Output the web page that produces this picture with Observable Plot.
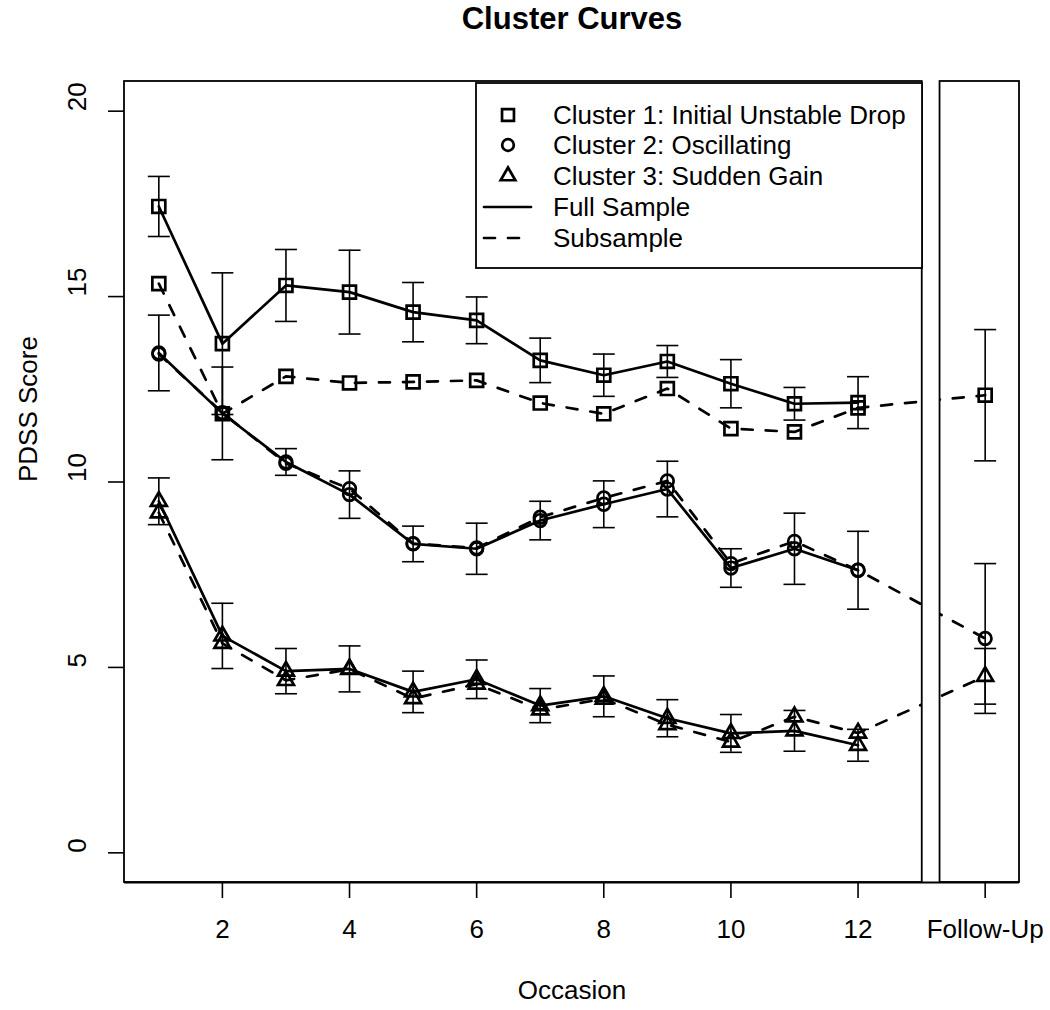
<!DOCTYPE html>
<html>
<head>
<meta charset="utf-8">
<script src="https://cdn.jsdelivr.net/npm/d3@7"></script>
<script src="https://cdn.jsdelivr.net/npm/@observablehq/plot@0.6"></script>
<style>
  html, body { margin: 0; padding: 0; background: #fff; }
  #chart { position: relative; width: 1050px; height: 1010px; }
</style>
</head>
<body>
<div id="chart"></div>
<script>
// ---------- data ----------
const occasions = [1, 2, 3, 4, 5, 6, 7, 8, 9, 10, 11, 12];
const followUpX = 14;
const xTicks = [2, 4, 6, 8, 10, 12, 14];
const xTickLabels = ["2", "4", "6", "8", "10", "12", "Follow-Up"];
const yTicks = [0, 5, 10, 15, 20];

// Cluster 1: Initial Unstable Drop
const c1Full    = [17.43, 13.73, 15.30, 15.12, 14.58, 14.36, 13.28, 12.88, 13.25, 12.65, 12.11, 12.14];
const c1FullErr = [0.81, 1.91, 0.97, 1.13, 0.80, 0.63, 0.60, 0.57, 0.43, 0.65, 0.44, 0.70];
const c1Sub     = [15.35, 11.84, 12.85, 12.67, 12.70, 12.74, 12.13, 11.84, 12.52, 11.44, 11.35, 12.00];
// Cluster 2: Oscillating
const c2Full    = [13.48, 11.85, 10.54, 9.66, 8.33, 8.20, 8.96, 9.40, 9.81, 7.68, 8.20, 7.62];
const c2FullErr = [1.02, 1.25, 0.36, 0.64, 0.48, 0.69, 0.52, 0.63, 0.75, 0.52, 0.96, 1.05];
const c2Sub     = [13.45, 11.87, 10.50, 9.82, 8.34, 8.22, 9.05, 9.57, 10.03, 7.80, 8.40, 7.62];
// Cluster 3: Sudden Gain
const c3Full    = [9.48, 5.85, 4.90, 4.96, 4.34, 4.68, 3.97, 4.22, 3.63, 3.22, 3.29, 2.90];
const c3FullErr = [0.63, 0.88, 0.61, 0.62, 0.56, 0.52, 0.46, 0.55, 0.50, 0.51, 0.55, 0.43];
const c3Sub     = [9.17, 5.65, 4.65, 4.95, 4.16, 4.55, 3.86, 4.15, 3.46, 2.99, 3.67, 3.23];
// Follow-up (subsample only), clusters 1..3
const followUpMean = [12.34, 5.78, 4.76];
const followUpErr  = [1.77, 2.02, 0.75];

const clusterNames = ["Cluster 1: Initial Unstable Drop", "Cluster 2: Oscillating", "Cluster 3: Sudden Gain"];
const lineLabels = ["Full Sample", "Subsample"];

// ---------- tables built from the arrays ----------
const fullSeries = [c1Full, c2Full, c3Full];
const fullErrSeries = [c1FullErr, c2FullErr, c3FullErr];
const subSeries = [c1Sub, c2Sub, c3Sub];

const fullRows = [];
const subRows = [];
fullSeries.forEach((s, k) => occasions.forEach((o, i) =>
  fullRows.push({cluster: k, x: o, y: s[i], err: fullErrSeries[k][i]})));
subSeries.forEach((s, k) => {
  occasions.forEach((o, i) => subRows.push({cluster: k, x: o, y: s[i]}));
  subRows.push({cluster: k, x: followUpX, y: followUpMean[k], err: followUpErr[k]});
});
const errRows = fullRows.concat(subRows.filter(d => d.x === followUpX));

// ---------- panel layout ----------
const xDomain = [0.46, 14.54];
const yDomain = [-0.8, 20.8];
const panels = [
  {x1: 0.46, x2: 13.01, y1: -0.8, y2: 20.8},
  {x1: 13.29, x2: 14.54, y1: -0.8, y2: 20.8}
];
const gap = [{x1: 13.01, x2: 13.29, y1: -0.8, y2: 20.8}];

const symbols = ["square", "circle", "triangle"];
const symbolR = [7.3, 6.3, 5.9];
const markerSW = 2.7;
const lineSW = 2.7;
const dash = "11,13";

const capSymbol = {
  draw(context, size) {
    const w = Math.sqrt(size / Math.PI);
    context.moveTo(-w, 0);
    context.lineTo(w, 0);
  }
};

const marks = [];
// lines
marks.push(Plot.line(fullRows, {x: "x", y: "y", z: "cluster", stroke: "black", strokeWidth: lineSW}));
marks.push(Plot.line(subRows, {x: "x", y: "y", z: "cluster", stroke: "black", strokeWidth: lineSW, strokeDasharray: dash}));
// gap between panels hides the lines
marks.push(Plot.rect(gap, {x1: "x1", x2: "x2", y1: "y1", y2: "y2", fill: "white"}));
// error bars
marks.push(Plot.ruleX(errRows, {x: "x", y1: d => d.y - d.err, y2: d => d.y + d.err, stroke: "black", strokeWidth: 1.6}));
marks.push(Plot.dot(errRows, {x: "x", y: d => d.y + d.err, symbol: capSymbol, r: 11, stroke: "black", strokeWidth: 1.6}));
marks.push(Plot.dot(errRows, {x: "x", y: d => d.y - d.err, symbol: capSymbol, r: 11, stroke: "black", strokeWidth: 1.6}));
// markers
[0, 1, 2].forEach(k => {
  marks.push(Plot.dot(fullRows.filter(d => d.cluster === k), {x: "x", y: "y", symbol: symbols[k], r: symbolR[k], stroke: "black", strokeWidth: markerSW, fill: "none"}));
  marks.push(Plot.dot(subRows.filter(d => d.cluster === k), {x: "x", y: "y", symbol: symbols[k], r: symbolR[k], stroke: "black", strokeWidth: markerSW, fill: "none"}));
});
// panel frames and bottom axis line
marks.push(Plot.rect(panels, {x1: "x1", x2: "x2", y1: "y1", y2: "y2", fill: "none", stroke: "black", strokeWidth: 1.8}));
marks.push(Plot.ruleY([yDomain[0]], {stroke: "black", strokeWidth: 2}));
// axes
marks.push(Plot.axisX({ticks: xTicks, tickFormat: d => xTickLabels[xTicks.indexOf(d)], tickSize: 16, tickPadding: 21, fontSize: 26, label: null, strokeWidth: 1.6}));
marks.push(Plot.axisY({ticks: yTicks, tickFormat: () => "", tickSize: 16, label: null, strokeWidth: 1.6}));
marks.push(Plot.text(yTicks, {y: d => d, text: d => String(d), frameAnchor: "left", lineAnchor: "middle", dx: -47, rotate: -90, fontSize: 26, fill: "black"}));
// axis titles and main title
marks.push(Plot.text(["PDSS Score"], {text: d => d, frameAnchor: "left", lineAnchor: "middle", dx: -96, rotate: -90, fontSize: 26, fill: "black"}));
marks.push(Plot.text(["Occasion"], {text: d => d, frameAnchor: "bottom", lineAnchor: "middle", dy: 108, fontSize: 26, fill: "black"}));
marks.push(Plot.text(["Cluster Curves"], {text: d => d, frameAnchor: "top", lineAnchor: "middle", dy: -62, fontSize: 31, fontWeight: "bold", fill: "black"}));

const chart = Plot.plot({
  width: 1050,
  height: 1010,
  marginLeft: 124,
  marginRight: 31,
  marginTop: 81,
  marginBottom: 128,
  x: {domain: xDomain},
  y: {domain: yDomain},
  style: {fontFamily: "'Liberation Sans', Arial, sans-serif", background: "white", color: "black", overflow: "visible"},
  marks
});

// ---------- legend (inside plot, top right) ----------
const svg = d3.select(chart);
const lg = svg.append("g")
  .attr("font-family", "'Liberation Sans', Arial, sans-serif")
  .attr("font-size", 26)
  .attr("text-anchor", "start");
lg.append("rect").attr("x", 476).attr("y", 83).attr("width", 446).attr("height", 185)
  .attr("fill", "white").attr("stroke", "black").attr("stroke-width", 1.8);
const rowY = [115, 145, 176, 207, 238];
const legendSymbols = [d3.symbolSquare, d3.symbolCircle, d3.symbolTriangle];
clusterNames.forEach((name, k) => {
  lg.append("path")
    .attr("d", d3.symbol(legendSymbols[k], Math.PI * symbolR[k] * symbolR[k] * 0.85)())
    .attr("transform", `translate(508,${rowY[k]})`)
    .attr("fill", "none").attr("stroke", "black").attr("stroke-width", markerSW);
  lg.append("text").attr("x", 553).attr("y", rowY[k]).attr("dy", "0.36em").attr("fill", "black").text(name);
});
lineLabels.forEach((name, j) => {
  const yy = rowY[3 + j];
  lg.append("line").attr("x1", 484).attr("x2", 531).attr("y1", yy).attr("y2", yy)
    .attr("stroke", "black").attr("stroke-width", lineSW)
    .attr("stroke-dasharray", j === 1 ? dash : null).attr("stroke-linecap", "round");
  lg.append("text").attr("x", 553).attr("y", yy).attr("dy", "0.36em").attr("fill", "black").text(name);
});

document.getElementById("chart").appendChild(chart);
</script>
</body>
</html>
